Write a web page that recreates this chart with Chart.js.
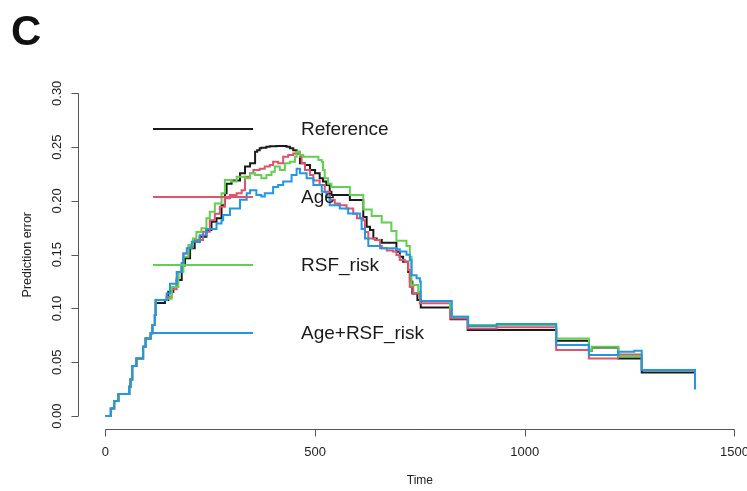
<!DOCTYPE html>
<html>
<head>
<meta charset="utf-8">
<script src="https://cdn.jsdelivr.net/npm/chart.js@4/dist/chart.umd.min.js"></script>
<style>
  html, body { margin: 0; padding: 0; background: #fff; }
  #wrap { position: relative; width: 747px; height: 491px; }
</style>
</head>
<body>
<div id="wrap"><canvas id="pec" width="747" height="491"></canvas></div>
<script>
// ── Chart data ──
const panelLetter = 'C';
const xTitle = 'Time';
const yTitle = 'Prediction error';
const xTicks = [0, 500, 1000, 1500];
const yTicks = [0, 0.05, 0.10, 0.15, 0.20, 0.25, 0.30];
const seriesNames = ['Reference', 'Age', 'RSF_risk', 'Age+RSF_risk'];

const refTime = [0,13,21,31,57,60,64,74,90,96,
  108,112,118,120,142,150,162,170,182,190,
  202,213,225,241,253,265,277,285,289,301,
  321,333,345,357,362,368,372,384,392,408,
  420,432,440,448,456,464,476,488,500,511,
  519,527,535,539,583,615,623,631,639,647,
  659,694,702,710,722,726,732,744,752,823,
  864,1075,1153,1160,1223,1279,1406];
const refErr = [0,.007,.014,.0205,.0273,.034,.0465,.0536,.0645,.0722,
  .0769,.0846,.0939,.105,.1078,.1156,.120,.1264,.140,.1466,
  .1559,.162,.1667,.173,.1806,.1838,.196,.207,.216,.219,
  .2256,.232,.235,.2457,.247,.2489,.2495,.2504,.2508,.251,
  .251,.2504,.249,.247,.244,.235,.2333,.2287,.2256,.221,
  .218,.2147,.2085,.2055,.2008,.185,.176,.173,.165,.1636,
  .161,.1527,.148,.1434,.134,.125,.114,.108,.101,.090,
  .080,.070,.0607,.0638,.0536,.0406,.0406];

const ageTime = [0,13,21,31,57,60,64,74,90,96,
  108,112,118,120,146,158,170,174,182,186,
  198,209,233,249,261,273,285,297,313,325,
  333,345,353,368,380,392,400,412,424,436,
  448,460,464,468,476,488,496,511,523,535,
  547,559,575,591,600,615,619,627,643,655,
  671,686,694,702,714,722,726,734,750,823,
  864,933,1075,1153,1223,1279,1406];
const ageErr = [0,.007,.014,.0205,.0273,.034,.0465,.0536,.0645,.0722,
  .0769,.0846,.0939,.1078,.111,.118,.128,.134,.142,.151,
  .157,.1636,.1713,.182,.188,.1946,.2024,.2055,.207,.210,
  .2225,.2256,.2287,.230,.232,.2333,.2364,.235,.241,.2426,
  .244,.2457,.241,.235,.2287,.224,.219,.2147,.2085,.2008,
  .1977,.196,.193,.188,.1838,.182,.171,.165,.1636,.156,
  .154,.153,.1497,.145,.1434,.1357,.120,.114,.1048,.0908,
  .0815,.0826,.0614,.0536,.0573,.0428,.0428];

const rsfTime = [0,13,21,31,57,60,64,74,90,96,
  108,112,118,120,146,158,174,186,198,209,
  217,229,241,249,261,277,285,301,313,333,
  345,357,372,384,396,404,416,428,440,452,
  456,464,472,508,516,519,523,531,539,583,
  615,635,659,682,694,718,726,730,746,752,
  822,826,865,1075,1153,1160,1223,1279,1406];
const rsfErr = [0,.007,.014,.0205,.0273,.034,.0465,.0536,.0645,.0722,
  .0769,.0846,.0939,.1078,.109,.120,.134,.148,.159,.165,
  .171,.1745,.1838,.190,.1977,.207,.2194,.218,.2225,.221,
  .2256,.224,.221,.224,.227,.232,.2287,.235,.2364,.241,
  .2457,.2426,.241,.238,.2364,.2287,.221,.216,.213,.2055,
  .192,.186,.180,.172,.163,.158,.148,.1218,.1156,.107,
  .100,.0923,.0846,.0722,.0607,.0644,.0558,.0428,.0428];

const bothTime = [0,13,21,31,57,60,64,74,90,96,
  108,112,118,120,146,154,170,182,186,194,
  206,225,241,265,277,281,297,321,337,345,
  360,372,380,400,412,424,444,456,464,480,
  496,516,527,535,559,579,607,611,619,627,
  659,694,702,718,726,730,742,750,752,826,
  865,933,1075,1153,1223,1261,1279,1406,1406];
const bothErr = [0,.007,.014,.0205,.0273,.034,.0465,.0536,.0645,.0722,
  .0769,.0846,.0939,.1078,.114,.123,.134,.142,.151,.156,
  .162,.168,.174,.179,.182,.187,.193,.201,.207,.210,
  .2055,.204,.207,.213,.2147,.218,.224,.230,.2256,.221,
  .2147,.2085,.204,.196,.193,.1884,.1838,.174,.165,.158,
  .156,.155,.153,.150,.145,.131,.128,.125,.107,.0923,
  .0837,.0855,.066,.0567,.0598,.0607,.0428,.0428,.0248];

// ── Styles ──
const COLORS = ['#1a1a1a', '#DF536B', '#61D04F', '#2297E6'];
const FONT = '"Liberation Sans", Arial, sans-serif';
const AXIS_COL = '#555';
const TEXT_COL = '#222';

const pts = (t, e) => t.map((x, i) => ({ x, y: e[i] }));
const seriesData = [pts(refTime, refErr), pts(ageTime, ageErr), pts(rsfTime, rsfErr), pts(bothTime, bothErr)];

// R-style axes (offset from the data, ticks pointing out) + in-plot legend
const rStyle = {
  id: 'rStyle',
  beforeDatasetsDraw(chart) {
    const { ctx, chartArea: a, scales: { x, y } } = chart;
    ctx.save();
    ctx.strokeStyle = AXIS_COL;
    ctx.lineWidth = 1;
    ctx.fillStyle = TEXT_COL;
    ctx.font = '13px ' + FONT;

    // x axis
    const xb = Math.round(a.bottom) + 0.5;
    ctx.beginPath();
    ctx.moveTo(x.getPixelForValue(xTicks[0]), xb);
    ctx.lineTo(x.getPixelForValue(xTicks[xTicks.length - 1]), xb);
    xTicks.forEach(t => {
      const px = Math.round(x.getPixelForValue(t)) + 0.5;
      ctx.moveTo(px, xb); ctx.lineTo(px, xb + 7);
    });
    ctx.stroke();
    ctx.textAlign = 'center';
    ctx.textBaseline = 'middle';
    xTicks.forEach(t => ctx.fillText(String(t), x.getPixelForValue(t), xb + 23));

    // y axis
    const yl = Math.round(a.left) + 0.5;
    ctx.beginPath();
    ctx.moveTo(yl, y.getPixelForValue(yTicks[0]));
    ctx.lineTo(yl, y.getPixelForValue(yTicks[yTicks.length - 1]));
    yTicks.forEach(v => {
      const py = Math.round(y.getPixelForValue(v)) + 0.5;
      ctx.moveTo(yl, py); ctx.lineTo(yl - 7, py);
    });
    ctx.stroke();
    yTicks.forEach(v => {
      ctx.save();
      ctx.translate(yl - 21, y.getPixelForValue(v));
      ctx.rotate(-Math.PI / 2);
      ctx.fillText(v.toFixed(2), 0, 0);
      ctx.restore();
    });

    // titles
    ctx.font = '12px ' + FONT;
    ctx.fillText(xTitle, x.getPixelForValue(750), 481);
    ctx.save();
    ctx.translate(28, (a.top + a.bottom) / 2);
    ctx.rotate(-Math.PI / 2);
    ctx.font = '12.5px ' + FONT;
    ctx.fillText(yTitle, 0, 0);
    ctx.restore();

    // panel letter
    ctx.font = 'bold 42px ' + FONT;
    ctx.textAlign = 'left';
    ctx.textBaseline = 'alphabetic';
    ctx.fillStyle = '#111';
    ctx.fillText(panelLetter, 11, 45);
    ctx.restore();
  },
  afterDatasetsDraw(chart) {
    const { ctx } = chart;
    ctx.save();
    ctx.font = '19px ' + FONT;
    ctx.textAlign = 'left';
    ctx.textBaseline = 'middle';
    seriesNames.forEach((name, i) => {
      const ly = 129 + i * 68;
      ctx.strokeStyle = COLORS[i];
      ctx.lineWidth = 2;
      ctx.beginPath();
      ctx.moveTo(153, ly); ctx.lineTo(253, ly);
      ctx.stroke();
      ctx.fillStyle = '#1a1a1a';
      ctx.fillText(name, 301, ly + 1);
    });
    ctx.restore();
  }
};

new Chart(document.getElementById('pec'), {
  type: 'line',
  data: {
    datasets: seriesNames.map((name, i) => ({
      label: name,
      data: seriesData[i],
      borderColor: COLORS[i],
      borderWidth: 2,
      stepped: true,
      pointRadius: 0,
      fill: false,
      order: 4 - i,
    }))
  },
  options: {
    responsive: false,
    animation: false,
    events: [],
    layout: { padding: { left: 77.7, right: 0, top: 80.4, bottom: 62 } },
    plugins: { legend: { display: false }, tooltip: { enabled: false } },
    scales: {
      x: { type: 'linear', min: -66, max: 1530, display: false },
      y: { type: 'linear', min: -0.012, max: 0.312, display: false },
    },
  },
  plugins: [rStyle],
});
</script>
</body>
</html>
